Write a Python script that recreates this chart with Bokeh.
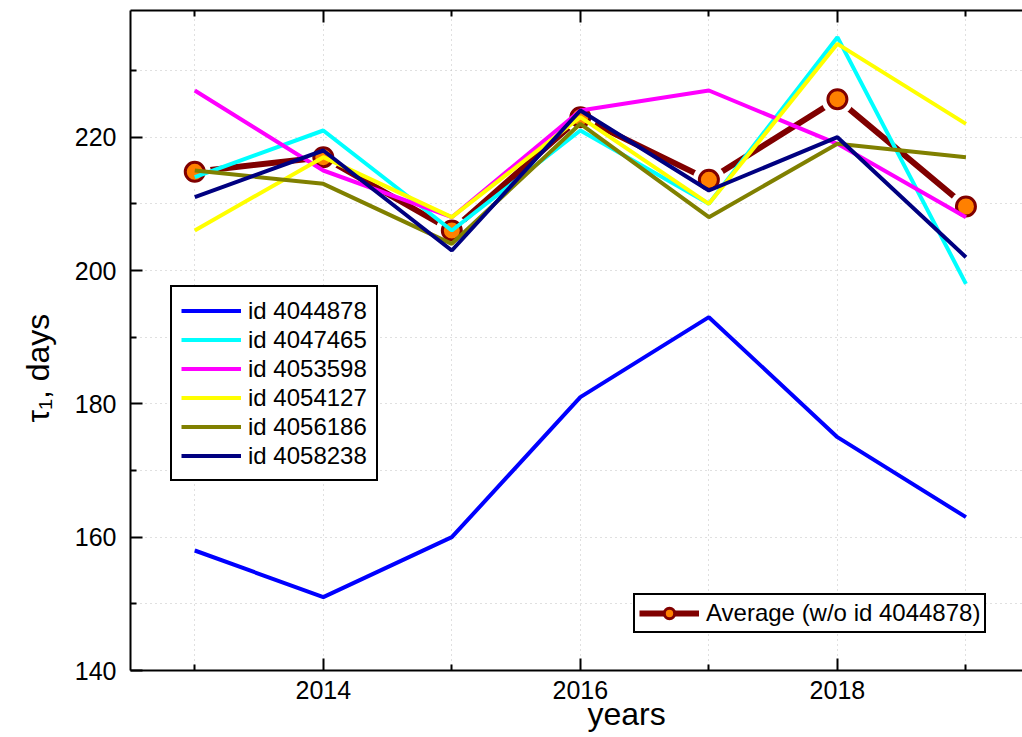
from bokeh.plotting import figure
from bokeh.models import Range1d, FixedTicker, LinearAxis, Legend, LegendItem, Title
from bokeh.embed import file_html
from bokeh.resources import INLINE

years = [2013, 2014, 2015, 2016, 2017, 2018, 2019]
id_4044878 = [158, 151, 160, 181, 193, 175, 163]
id_4047465 = [214, 221, 206, 221, 210, 235, 198]
id_4053598 = [227, 215, 208, 224, 227, 219, 208]
id_4054127 = [206, 217, 208, 223, 210, 234, 222]
id_4056186 = [215, 213, 204, 222, 208, 219, 217]
id_4058238 = [211, 218, 203, 224, 212, 220, 202]
average = [214.8, 217.0, 206.0, 223.0, 213.6, 225.7, 209.6]

series = [
    ("id 4044878", id_4044878, "#0000FF"),
    ("id 4047465", id_4047465, "#00FFFF"),
    ("id 4053598", id_4053598, "#FF00FF"),
    ("id 4054127", id_4054127, "#FFFF00"),
    ("id 4056186", id_4056186, "#808000"),
    ("id 4058238", id_4058238, "#000080"),
]

x_major = [2014, 2016, 2018]
x_minor = [2013, 2015, 2017, 2019]
y_major = [140, 160, 180, 200, 220]
y_minor = [150, 170, 190, 210, 230]

FONT = "Liberation Sans"

p = figure(width=1022, height=737, output_backend="svg", toolbar_location=None,
           x_range=Range1d(2012.5, 2019.44), y_range=Range1d(140, 239),
           min_border_left=130, min_border_right=0, min_border_top=10,
           min_border_bottom=67)
p.outline_line_color = None
p.background_fill_color = "white"
p.border_fill_color = "white"

xt = FixedTicker(ticks=x_major, minor_ticks=x_minor)
yt = FixedTicker(ticks=y_major, minor_ticks=y_minor)

for ax, t in ((p.xaxis[0], xt), (p.yaxis[0], yt)):
    ax.ticker = t
    ax.axis_line_width = 2
    ax.major_tick_line_width = 2
    ax.minor_tick_line_width = 2
    ax.major_tick_in = 12
    ax.major_tick_out = 0
    ax.minor_tick_in = 6
    ax.minor_tick_out = 0
    ax.major_label_text_font = FONT
    ax.major_label_text_font_size = "25px"
    ax.major_label_text_color = "black"
    ax.axis_line_color = "black"
    ax.major_tick_line_color = "black"
    ax.minor_tick_line_color = "black"
p.xaxis.major_label_standoff = 10
p.yaxis.major_label_standoff = 14

top = LinearAxis(ticker=xt, axis_line_width=2, major_tick_line_width=2,
                 minor_tick_line_width=2, major_tick_in=12, major_tick_out=0,
                 minor_tick_in=6, minor_tick_out=0,
                 major_label_overrides={t: "" for t in x_major},
                 major_label_text_font_size="8px", major_label_standoff=0)
p.add_layout(top, "above")

for g, t in ((p.xgrid[0], xt), (p.ygrid[0], yt)):
    g.ticker = t
    g.grid_line_color = "#c0c0c0"
    g.grid_line_dash = "1 4"
    g.grid_line_width = 1
    g.minor_grid_line_color = "#c0c0c0"
    g.minor_grid_line_dash = "1 4"
    g.minor_grid_line_width = 1

# average (drawn beneath the others)
avg_line = p.line(years, average, line_color="#800000", line_width=6)
p.scatter(years, average, size=32, fill_color="white", line_color=None)
avg_pts = p.scatter(years, average, size=19, fill_color="#FF8000",
                    line_color="#800000", line_width=3)

items = []
for name, vals, col in series:
    r = p.line(years, vals, line_color=col, line_width=4)
    items.append(LegendItem(label=name, renderers=[r]))

leg1 = Legend(items=items, location=(40, 189), orientation="vertical",
              glyph_width=60, glyph_height=29, label_height=29, spacing=0,
              padding=9, margin=0, label_standoff=7,
              label_text_font=FONT, label_text_font_size="24px",
              label_text_color="black",
              border_line_color="black", border_line_width=2, border_line_alpha=1.0,
              background_fill_color="white", background_fill_alpha=1.0)
p.add_layout(leg1, "center")

leg2 = Legend(items=[LegendItem(label="Average (w/o id 4044878)", renderers=[avg_line, avg_pts])],
              location=(503, 37), glyph_width=60, glyph_height=26, label_height=26,
              padding=4, margin=0, label_standoff=7,
              label_text_font=FONT, label_text_font_size="24px",
              label_text_color="black",
              border_line_color="black", border_line_width=2, border_line_alpha=1.0,
              background_fill_color="white", background_fill_alpha=1.0)
p.add_layout(leg2, "center")

p.add_layout(Title(text="years", align="left", offset=457, text_font=FONT,
                   text_font_size="32px", text_font_style="normal",
                   text_color="black", standoff=-15), "below")
p.add_layout(Title(text="τ₁, days", align="left", offset=248, text_font=FONT,
                   text_font_size="32px", text_font_style="normal",
                   text_color="black", standoff=32), "left")

open("out.html", "w").write(file_html(p, INLINE))
